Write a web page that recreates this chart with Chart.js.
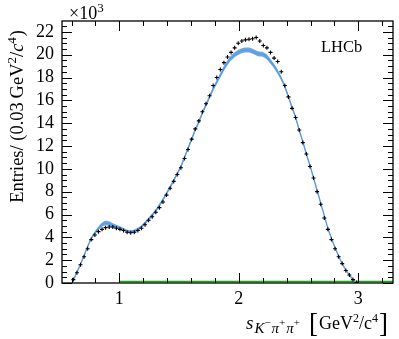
<!DOCTYPE html>
<html><head><meta charset="utf-8">
<script src="https://cdn.jsdelivr.net/npm/chart.js@4/dist/chart.umd.min.js"></script>
<style>html,body{margin:0;padding:0;background:#fff;} canvas{display:block;}</style>
</head><body>
<canvas id="c" width="399" height="339"></canvas>
<script>
// ---- data (values in units of 10^3 entries) ----
const binCenters = [0.615,0.645,0.675,0.705,0.735,0.765,0.795,0.825,0.855,0.885,
  0.915,0.945,0.975,1.005,1.035,1.065,1.095,1.125,1.155,1.185,
  1.215,1.245,1.275,1.305,1.335,1.365,1.395,1.425,1.455,1.485,
  1.515,1.545,1.575,1.605,1.635,1.665,1.695,1.725,1.755,1.785,
  1.815,1.845,1.875,1.905,1.935,1.965,1.995,2.025,2.055,2.085,
  2.115,2.145,2.175,2.205,2.235,2.265,2.295,2.325,2.355,2.385,
  2.415,2.445,2.475,2.505,2.535,2.565,2.595,2.625,2.655,2.685,
  2.715,2.745,2.775,2.805,2.835,2.865,2.895,2.925,2.955,2.985];
const dataValues = [0.3,0.9,1.6,2.3,3.0,3.8,4.2,4.5,4.7,4.85,
  4.9,4.9,4.8,4.7,4.6,4.45,4.4,4.45,4.6,4.8,
  5.1,5.5,5.8,6.2,6.6,7.1,7.7,8.3,8.9,9.5,
  10.1,10.9,11.7,12.6,13.5,14.2,15.0,15.7,16.4,17.3,
  18.0,18.7,19.3,19.8,20.2,20.6,21.0,21.2,21.3,21.35,
  21.4,21.5,21.2,20.8,20.6,20.2,19.7,19.4,18.5,17.3,
  16.3,15.3,14.5,13.4,12.3,11.3,10.2,9.2,8.0,6.9,
  5.7,4.7,3.8,3.0,2.3,1.7,1.1,0.7,0.3,0.05];
const modelValues = [0.25,0.95,1.65,2.4,3.2,3.9,4.4,4.8,5.1,5.25,
  5.2,5.05,4.95,4.85,4.7,4.55,4.5,4.55,4.7,4.95,
  5.25,5.6,5.95,6.35,6.8,7.3,7.85,8.4,9.0,9.6,
  10.2,11.0,11.8,12.6,13.4,14.1,14.9,15.6,16.3,17.0,
  17.6,18.2,18.8,19.3,19.7,20.0,20.2,20.35,20.4,20.4,
  20.3,20.15,20.05,20.0,19.8,19.4,19.0,18.5,17.9,17.2,
  16.3,15.4,14.5,13.4,12.4,11.3,10.3,9.2,8.1,7.0,
  5.9,4.8,3.9,3.1,2.35,1.7,1.15,0.7,0.3,0.0];
const modelErr = [0.03,0.04,0.05,0.06,0.08,0.1,0.12,0.15,0.18,0.2,
  0.2,0.18,0.15,0.12,0.12,0.12,0.13,0.14,0.14,0.14,
  0.14,0.14,0.14,0.14,0.14,0.13,0.12,0.12,0.12,0.12,
  0.12,0.12,0.13,0.14,0.14,0.14,0.15,0.15,0.16,0.17,
  0.18,0.2,0.2,0.22,0.22,0.22,0.22,0.22,0.22,0.22,
  0.22,0.22,0.22,0.22,0.22,0.2,0.2,0.18,0.16,0.14,
  0.12,0.1,0.1,0.08,0.08,0.07,0.06,0.06,0.05,0.05,
  0.04,0.04,0.04,0.03,0.03,0.03,0.02,0.02,0.02,0.01];
const bkgX = [1.0, 1.5, 2.0, 2.5, 3.0, 3.29];
const bkgValues = [0.13, 0.13, 0.13, 0.13, 0.13, 0.13];
const xTickValues = [1, 2, 3];
const yTickValues = [0, 2, 4, 6, 8, 10, 12, 14, 16, 18, 20, 22];
const X_MIN = 0.52, X_MAX = 3.29, Y_MIN = 0, Y_MAX = 22.95;

const FONT = "'Liberation Serif', 'DejaVu Serif', serif";
const pts = (xs, ys) => xs.map((x, i) => ({x: x, y: ys[i]}));

const bandLow = pts(binCenters, modelValues.map((v, i) => v - modelErr[i]));
const bandHigh = pts(binCenters, modelValues.map((v, i) => v + modelErr[i]));

function drawPieces(ctx, pieces, x0, y0, doDraw) {
  let x = x0;
  for (const p of pieces) {
    ctx.font = p.f;
    if (doDraw) ctx.fillText(p.t, x, y0 + (p.dy || 0));
    x += ctx.measureText(p.t).width + (p.sp || 0);
  }
  return x - x0;
}

const framePlugin = {
  id: 'frame',
  afterDraw(chart) {
    const ctx = chart.ctx;
    const {left, right, top, bottom} = chart.chartArea;
    const xs = chart.scales.x, ys = chart.scales.y;
    ctx.save();
    ctx.strokeStyle = '#000';
    ctx.lineWidth = 1;
    ctx.beginPath();
    for (let k = 3; k <= 16; k++) {
      const v = k / 5;
      if (v < X_MIN || v > X_MAX) continue;
      const major = k % 5 === 0;
      const len = major ? 10 : 5;
      const px = Math.round(xs.getPixelForValue(v)) + 0.5;
      ctx.moveTo(px, bottom); ctx.lineTo(px, bottom - len);
      ctx.moveTo(px, top); ctx.lineTo(px, top + len);
    }
    for (let k = 0; k <= 45; k++) {
      const v = k / 2;
      if (v > Y_MAX) continue;
      const major = k % 4 === 0;
      const len = major ? 10 : 5;
      const py = Math.round(ys.getPixelForValue(v)) + 0.5;
      ctx.moveTo(left, py); ctx.lineTo(left + len, py);
      ctx.moveTo(right, py); ctx.lineTo(right - len, py);
    }
    ctx.stroke();
    ctx.lineWidth = 1.3;
    ctx.strokeRect(left, top, right - left, bottom - top);

    ctx.fillStyle = '#000';
    ctx.textBaseline = 'alphabetic';
    ctx.textAlign = 'left';
    // exponent label
    drawPieces(ctx, [
      {t: '\u00d710', f: `18px ${FONT}`},
      {t: '3', f: `13px ${FONT}`, dy: -7}
    ], 69, 19, true);
    // LHCb
    ctx.font = `16.5px ${FONT}`;
    ctx.fillText('LHCb', 321, 52);

    // x title
    const xt = [
      {t: 's', f: `italic 19px ${FONT}`, sp: 1},
      {t: 'K', f: `italic 15px ${FONT}`, dy: 4},
      {t: '\u2212', f: `11px ${FONT}`, dy: -3, sp: 1},
      {t: '\u03c0', f: `italic 15px ${FONT}`, dy: 4},
      {t: '+', f: `11px ${FONT}`, dy: -3, sp: 1},
      {t: '\u03c0', f: `italic 15px ${FONT}`, dy: 4},
      {t: '+', f: `11px ${FONT}`, dy: -3, sp: 9},
      {t: '[', f: `27px ${FONT}`, dy: 3, sp: 1},
      {t: 'GeV', f: `18px ${FONT}`},
      {t: '2', f: `12px ${FONT}`, dy: -7},
      {t: '/c', f: `18px ${FONT}`},
      {t: '4', f: `12px ${FONT}`, dy: -7, sp: 1},
      {t: ']', f: `27px ${FONT}`, dy: 3}
    ];
    const wx = drawPieces(ctx, xt, 0, 0, false);
    drawPieces(ctx, xt, 388 - wx, 329, true);

    // y title (rotated)
    const yt = [
      {t: 'Entries/ (0.03\u2009GeV', f: `18.5px ${FONT}`},
      {t: '2', f: `13px ${FONT}`, dy: -7},
      {t: '/', f: `18.5px ${FONT}`},
      {t: 'c', f: `italic 18.5px ${FONT}`},
      {t: '4', f: `13px ${FONT}`, dy: -7, sp: 1},
      {t: ')', f: `18.5px ${FONT}`}
    ];
    const wy = drawPieces(ctx, yt, 0, 0, false);
    ctx.translate(23, 30 + wy);
    ctx.rotate(-Math.PI / 2);
    drawPieces(ctx, yt, 0, 0, true);
    ctx.restore();
  }
};

const chart = new Chart(document.getElementById('c'), {
  type: 'line',
  data: {
    datasets: [
      { label: 'Data', data: pts(binCenters, dataValues), showLine: false,
        pointStyle: 'cross', pointRadius: 2, pointBorderWidth: 1.1,
        pointBorderColor: '#000', pointBackgroundColor: '#000', borderColor: '#000', order: 0 },
      { label: 'Model', data: pts(binCenters, modelValues), borderColor: 'rgb(90,155,225)',
        borderWidth: 1.4, pointRadius: 0, fill: false, tension: 0.3, order: 1 },
      { label: 'band low', data: bandLow, borderWidth: 0, pointRadius: 0, fill: false,
        tension: 0.3, order: 3 },
      { label: 'band high', data: bandHigh, borderWidth: 0, pointRadius: 0,
        fill: { target: 2 }, backgroundColor: 'rgba(100,162,228,0.95)', tension: 0.3, order: 2 },
      { label: 'Background', data: pts(bkgX, bkgValues), borderColor: 'rgb(20,170,20)',
        borderWidth: 1.5, pointRadius: 0, fill: false, order: 4 }
    ]
  },
  options: {
    responsive: false,
    animation: false,
    devicePixelRatio: 1,
    layout: { padding: { top: 21, right: 6, left: 0, bottom: 0 } },
    plugins: { legend: { display: false }, tooltip: { enabled: false }, title: { display: false } },
    scales: {
      x: {
        type: 'linear', min: X_MIN, max: X_MAX,
        grid: { display: false, drawTicks: false },
        border: { display: false },
        afterBuildTicks: s => { s.ticks = xTickValues.map(v => ({value: v})); },
        afterFit: s => { s.height = 56; },
        ticks: { color: '#000', font: { family: FONT, size: 18 }, padding: 5, maxRotation: 0,
          autoSkip: false, callback: v => String(v) }
      },
      y: {
        type: 'linear', min: Y_MIN, max: Y_MAX,
        grid: { display: false, drawTicks: false },
        border: { display: false },
        afterBuildTicks: s => { s.ticks = yTickValues.map(v => ({value: v})); },
        afterFit: s => { s.width = 62; },
        ticks: { color: '#000', font: { family: FONT, size: 18 }, padding: 8,
          autoSkip: false, callback: v => String(v) }
      }
    }
  },
  plugins: [framePlugin]
});
</script>
</body></html>
